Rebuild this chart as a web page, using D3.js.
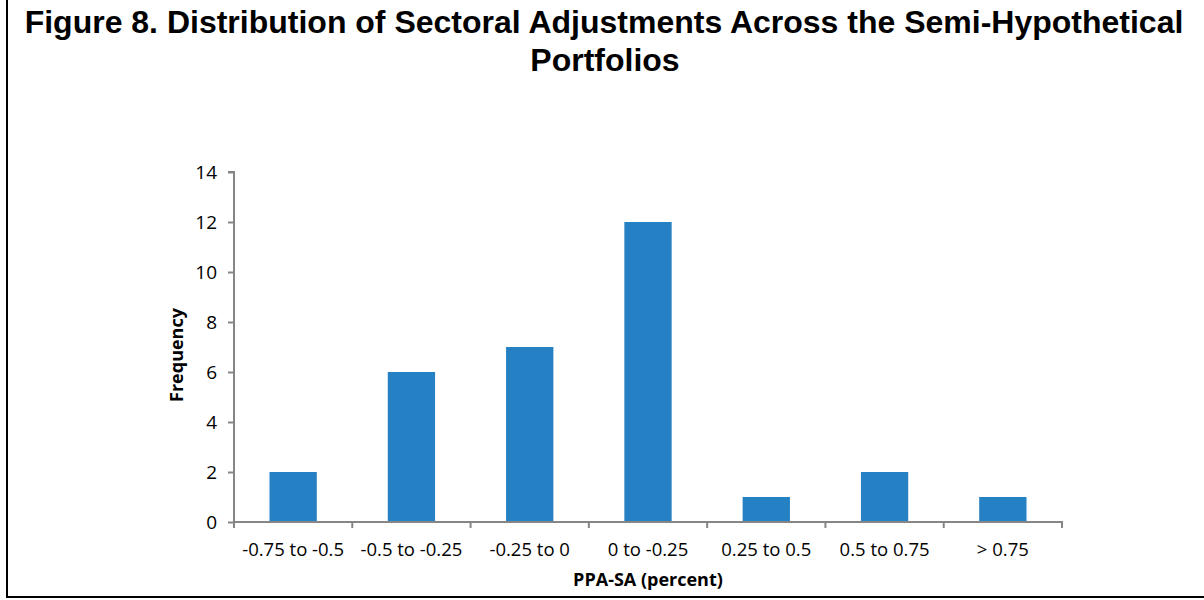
<!DOCTYPE html>
<html>
<head>
<meta charset="utf-8">
<script src="https://cdn.jsdelivr.net/npm/d3@7"></script>
<style>
  body { margin: 0; background: #fff; }
  svg text { font-family: "Open Sans", "Noto Sans", sans-serif; }
</style>
</head>
<body>
<svg id="chart" width="1204" height="600"></svg>
<script>
// Figure 8 -- histogram of sectoral adjustments

var categories = ["-0.75 to -0.5", "-0.5 to -0.25", "-0.25 to 0", "0 to -0.25",
                  "0.25 to 0.5", "0.5 to 0.75", "> 0.75"];
var frequency = [2, 6, 7, 12, 1, 2, 1];
var yTicks = [0, 2, 4, 6, 8, 10, 12, 14];

var svg = d3.select("#chart");

// outer frame (left and bottom edges only)
svg.append("line").attr("x1", 7).attr("x2", 7).attr("y1", 0).attr("y2", 598)
  .attr("stroke", "#000").attr("stroke-width", 2);
svg.append("line").attr("x1", 6).attr("x2", 1204).attr("y1", 597).attr("y2", 597)
  .attr("stroke", "#000").attr("stroke-width", 2);

// title
var title = svg.append("text")
  .attr("text-anchor", "middle")
  .style("font-family", "'Liberation Sans', Arial, sans-serif")
  .style("font-weight", "bold")
  .style("font-size", "32px");
title.append("tspan").attr("x", 604).attr("y", 33)
  .text("Figure 8. Distribution of Sectoral Adjustments Across the Semi-Hypothetical");
title.append("tspan").attr("x", 605).attr("y", 71).text("Portfolios");

var plotLeft = 234, plotRight = 1062, plotTop = 172, plotBottom = 522;

var x = d3.scaleBand().domain(categories).range([plotLeft, plotRight])
  .paddingInner(0.6).paddingOuter(0.3);
var xb = d3.scaleBand().domain(categories).range([plotLeft, plotRight]);
var y = d3.scaleLinear().domain([0, 14]).range([plotBottom, plotTop]);

// bars
svg.append("g").selectAll("rect")
  .data(frequency)
  .enter().append("rect")
  .attr("x", function (d, i) { return x(categories[i]); })
  .attr("width", x.bandwidth())
  .attr("y", function (d) { return y(d); })
  .attr("height", function (d) { return plotBottom - y(d); })
  .attr("fill", "#2581c4");

// y axis
var yAxis = svg.append("g")
  .attr("transform", "translate(" + plotLeft + ",0)")
  .call(d3.axisLeft(y).tickValues(yTicks).tickSize(6).tickPadding(11));
yAxis.select(".domain").attr("stroke", "#868686").attr("stroke-width", 2)
  .attr("d", "M-6," + plotTop + "H0V" + plotBottom);
yAxis.selectAll(".tick line").attr("stroke", "#868686").attr("stroke-width", 2);
yAxis.selectAll(".tick text").style("font-size", "19px").attr("fill", "#000")
  .style("font-family", "'Open Sans', sans-serif");

// x axis, ticks on the category boundaries
var xAxis = svg.append("g").attr("transform", "translate(0," + plotBottom + ")");
xAxis.append("line").attr("x1", plotLeft - 1).attr("x2", plotRight + 1)
  .attr("stroke", "#868686").attr("stroke-width", 2);
xAxis.selectAll(".bound")
  .data(categories.concat([null]))
  .enter().append("line")
  .attr("class", "bound")
  .attr("x1", function (d, i) { return plotLeft + i * xb.bandwidth(); })
  .attr("x2", function (d, i) { return plotLeft + i * xb.bandwidth(); })
  .attr("y1", 0).attr("y2", 6)
  .attr("stroke", "#868686").attr("stroke-width", 2);
xAxis.selectAll(".lbl")
  .data(categories)
  .enter().append("text")
  .attr("class", "lbl")
  .attr("x", function (d) { return xb(d) + xb.bandwidth() / 2; })
  .attr("y", 34)
  .attr("text-anchor", "middle")
  .style("font-size", "18.5px")
  .text(function (d) { return d; });

// axis titles
svg.append("text")
  .attr("transform", "translate(183,355) rotate(-90)")
  .attr("text-anchor", "middle")
  .style("font-weight", "bold").style("font-size", "18px")
  .text("Frequency");
svg.append("text")
  .attr("x", 648).attr("y", 586)
  .attr("text-anchor", "middle")
  .style("font-weight", "bold").style("font-size", "18px")
  .text("PPA-SA (percent)");
</script>
</body>
</html>
